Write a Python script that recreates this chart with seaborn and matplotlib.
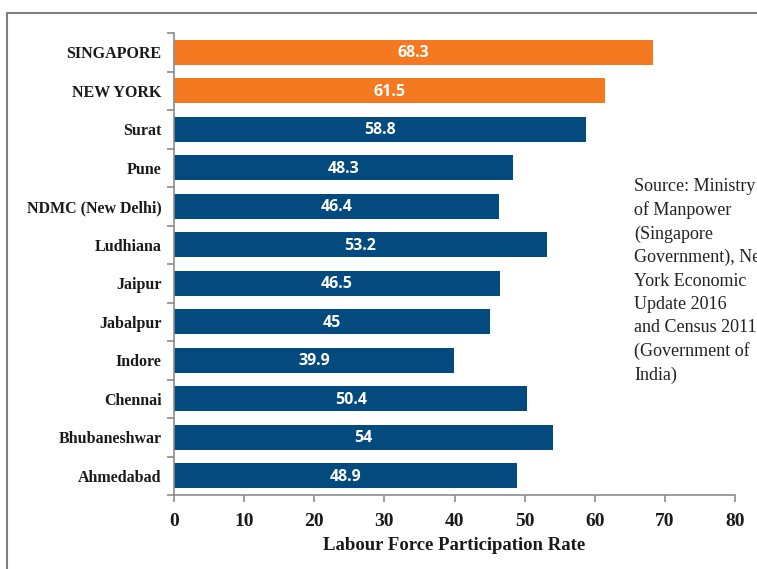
import matplotlib
matplotlib.use("Agg")
import matplotlib.pyplot as plt
from matplotlib.lines import Line2D
from matplotlib.ticker import MultipleLocator, FixedLocator
import seaborn as sns
import pandas as pd

cities = ["SINGAPORE", "NEW YORK", "Surat", "Pune", "NDMC (New Delhi)", "Ludhiana",
          "Jaipur", "Jabalpur", "Indore", "Chennai", "Bhubaneshwar", "Ahmedabad"]
rates = [68.3, 61.5, 58.8, 48.3, 46.4, 53.2, 46.5, 45.0, 39.9, 50.4, 54.0, 48.9]
value_labels = ["68.3", "61.5", "58.8", "48.3", "46.4", "53.2", "46.5", "45", "39.9", "50.4", "54", "48.9"]
groups = ["Global", "Global"] + ["India"] * 10
xlabel = "Labour Force Participation Rate"
source_lines = ["Source: Ministry", "of Manpower", "(Singapore", "Government), New",
                "York Economic", "Update 2016", "and Census 2011", "(Government of", "India)"]

df = pd.DataFrame({"city": cities, "rate": rates, "group": groups})
palette = {"Global": "#F47920", "India": "#034A7E"}

sns.set_style("white")
serif = ["Liberation Serif", "DejaVu Serif"]

fig = plt.figure(figsize=(7.57, 5.69), dpi=100)
ax = fig.add_axes([174 / 757, 1 - 495 / 569, (735 - 174) / 757, (495 - 33) / 569])

sns.barplot(data=df, x="rate", y="city", hue="group", palette=palette, dodge=False,
            legend=False, width=0.66, ax=ax, saturation=1, linewidth=0)

ax.set_xlim(0, 80)
ax.set_ylim(len(cities) - 0.5, -0.5)
ax.xaxis.set_major_locator(MultipleLocator(10))

for i, (v, lab) in enumerate(zip(rates, value_labels)):
    ax.text(v / 2, i + 0.03, lab, ha="center", va="center", color="white",
            fontsize=11.5, fontweight="bold", family=["Open Sans", "DejaVu Sans"])

for s in ["top", "right"]:
    ax.spines[s].set_visible(False)
for s in ["left", "bottom"]:
    ax.spines[s].set_color("#8c8c8c")
    ax.spines[s].set_linewidth(1.2)

ax.yaxis.set_minor_locator(FixedLocator([i - 0.5 for i in range(len(cities) + 1)]))
ax.tick_params(axis="y", which="major", length=0, pad=9)
ax.tick_params(axis="y", which="minor", length=5, color="#8c8c8c", width=1.2, left=True)
ax.tick_params(axis="x", which="major", length=5, color="#8c8c8c", width=1.2, bottom=True, pad=8)

for t in ax.get_yticklabels():
    t.set_fontfamily(serif)
    t.set_fontweight("bold")
    t.set_fontsize(11.5)
    t.set_color("#1a1a1a")
for t in ax.get_xticklabels():
    t.set_fontfamily(serif)
    t.set_fontweight("bold")
    t.set_fontsize(14)
    t.set_color("#1a1a1a")

ax.set_ylabel("")
ax.set_xlabel(xlabel, fontsize=13.5, fontweight="bold", family=serif, color="#1a1a1a", labelpad=5)

# outer frame
fx = 7 / 757
fy = 1 - 13 / 569
fig.add_artist(Line2D([fx, fx], [0, fy], transform=fig.transFigure, color="#7f7f7f", lw=1.5))
fig.add_artist(Line2D([fx, 1.0], [fy, fy], transform=fig.transFigure, color="#7f7f7f", lw=1.5))

fig.text(634 / 757, 1 - 178 / 569, "\n".join(source_lines), ha="left", va="top",
         fontsize=13, family=serif, color="#222222", linespacing=1.47)

fig.savefig("out.png", dpi=100)
